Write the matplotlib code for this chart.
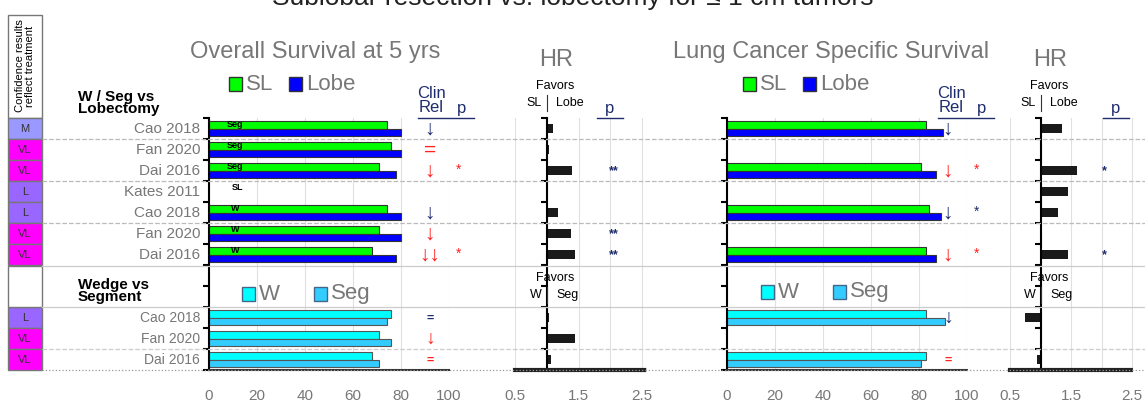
import matplotlib.pyplot as plt
from matplotlib.patches import Rectangle
from matplotlib.lines import Line2D

W, H = 1145, 407
studies = ["Cao 2018", "Fan 2020", "Dai 2016", "Kates 2011", "Cao 2018", "Fan 2020", "Dai 2016"]
studies_low = ["Cao 2018", "Fan 2020", "Dai 2016"]
conf = ["M", "VL", "VL", "L", "L", "VL", "VL"]
conf_low = ["L", "VL", "VL"]
bar_tags = ["Seg", "Seg", "Seg", "SL", "W", "W", "W"]

os_sl = [74, 76, 71, None, 74, 71, 68]
os_lobe = [80, 80, 78, None, 80, 80, 78]
os_w = [76, 71, 68]
os_seg = [74, 76, 71]
os_hr = [1.1, 1.03, 1.4, None, 1.18, 1.38, 1.45]
os_hr_low = [1.03, 1.45, 1.06]

lc_sl = [83, None, 81, None, 84, None, 83]
lc_lobe = [90, None, 87, None, 89, None, 87]
lc_w = [83, None, 83]
lc_seg = [91, None, 81]
lc_hr = [1.35, None, 1.6, 1.45, 1.28, None, 1.45]
lc_hr_low = [0.75, None, 0.95]

# (clinical relevance symbol, colour, p marker, colour)
NAVY, RED = "#1f2d6e", "#ff2020"
os_clin = [("↓", NAVY, "", RED), ("=", RED, "", RED), ("↓", RED, "*", RED), ("", NAVY, "", RED),
           ("↓", NAVY, "", RED), ("↓", RED, "", RED), ("↓↓", RED, "*", RED)]
os_clin_low = [("=", NAVY), ("↓", RED), ("=", RED)]
os_hr_p = ["", "", "**", "", "", "**", "**"]
lc_clin = [("↓", NAVY, "", RED), ("", NAVY, "", RED), ("↓", RED, "*", RED), ("", NAVY, "", RED),
           ("↓", NAVY, "*", NAVY), ("", NAVY, "", RED), ("↓", RED, "*", RED)]
lc_clin_low = [("↓", NAVY), ("", NAVY), ("=", RED)]
lc_hr_p = ["", "", "*", "", "", "", "*"]

conf_col = {"M": "#9999ff", "VL": "#ff00ff", "L": "#9966ff"}
GREEN, BLUE, CYAN, LBLUE = "#00ff00", "#0000ff", "#00ffff", "#33ccff"
GREY = "#777777"

fig = plt.figure(figsize=(W / 100, H / 100), dpi=100)
plt.rcParams['font.family'] = ['Liberation Sans', 'DejaVu Sans']


def fx(x):
    return x / W


def fy(y):
    return 1 - y / H


def add_ax(x0, x1):
    return fig.add_axes([fx(x0), fy(370), fx(x1) - fx(x0), (370 - 118) / H])


up_rows = list(range(7))
low_rows = [9, 10, 11]


def style(ax, xlim, ticks, spine_x, dotted):
    ax.set_xlim(*xlim)
    ax.set_ylim(12, 0)
    ax.set_xticks(ticks)
    ax.set_xticklabels([f"{t:g}" for t in ticks], color=GREY, fontsize=11)
    ax.tick_params(axis="x", length=0, pad=14)
    ax.set_yticks(list(range(0, 13)))
    ax.set_yticklabels([])
    ax.tick_params(axis="y", direction="out", length=4, width=1.5)
    for s in ["top", "right"]:
        ax.spines[s].set_visible(False)
    ax.spines["left"].set_position(("data", spine_x))
    ax.spines["left"].set_linewidth(1.5)
    if dotted:
        ax.spines["bottom"].set_linewidth(3)
        ax.spines["bottom"].set_linestyle((0, (1, 1)))
        ax.spines["bottom"].set_color("#222222")
    else:
        ax.spines["bottom"].set_linewidth(1.5)
        ax.spines["bottom"].set_color("#333333")
    ax.grid(axis="x", color="#e0e0e0", lw=0.8)
    ax.set_axisbelow(True)
    ax.patch.set_alpha(0)


def surv_panel(x0, a, b, lw_, ls_, clin, clin_low, tags):
    ax = add_ax(x0, x0 + 240)
    style(ax, (0, 100), [0, 20, 40, 60, 80, 100], 0, False)
    for r, va, vb in zip(up_rows, a, b):
        if va is not None:
            ax.barh(r + 0.32, va, 0.36, color=GREEN, edgecolor="#333333", lw=0.8)
            ax.barh(r + 0.68, vb, 0.36, color=BLUE, edgecolor="#333333", lw=0.8)
    for r, va, vb in zip(low_rows, lw_, ls_):
        if va is not None:
            ax.barh(r + 0.32, va, 0.36, color=CYAN, edgecolor="#555555", lw=0.8)
            ax.barh(r + 0.68, vb, 0.36, color=LBLUE, edgecolor="#555555", lw=0.8)
    for r, (sym, c, p, pc) in zip(up_rows, clin):
        ax.text(92, r + 0.55, sym, color=c, fontsize=15, ha="center", va="center")
        ax.text(104, r + 0.45, p, color=pc, fontsize=10, ha="center", va="center")
    for r, (sym, c) in zip(low_rows, clin_low):
        ax.text(92, r + 0.55, sym, color=c, fontsize=14 if sym == "↓" else 9,
                ha="center", va="center", fontweight="bold" if sym == "=" else "normal")
    if tags:
        for r, t in zip(up_rows, bar_tags):
            ax.text(12 if t == "SL" else 11, r + 0.3, t, fontsize=6.5, fontweight="bold",
                    ha="center", va="center")
    return ax


def hr_panel(x0, x1, scale, hr, hr_low, ps):
    ax = add_ax(x0, x1)
    style(ax, (0.5, 0.5 + (x1 - x0) / scale), [0.5, 1.5, 2.5], 1.0, True)
    ax.set_xticks([0.5, 1.0, 1.5, 2.0, 2.5])
    ax.set_xticklabels(["0.5", "", "1.5", "", "2.5"], color=GREY, fontsize=11)
    for r, v in zip(up_rows + low_rows, hr + hr_low):
        if v is not None:
            ax.barh(r + 0.5, v - 1, 0.4, left=1, color="#1a1a1a")
    for r, p in zip(up_rows, ps):
        ax.text(2.05, r + 0.55, p, color=NAVY, fontsize=9, fontweight="bold",
                ha="center", va="center")
    return ax


surv_panel(209, os_sl, os_lobe, os_w, os_seg, os_clin, os_clin_low, True)
hr_panel(515, 645, 63.5, os_hr, os_hr_low, os_hr_p)
surv_panel(727, lc_sl, lc_lobe, lc_w, lc_seg, lc_clin, lc_clin_low, False)
hr_panel(1010, 1135, 61, lc_hr, lc_hr_low, lc_hr_p)

# separators
for y, ls, c in [(139, "--", "#bbbbbb"), (181, "--", "#bbbbbb"), (223, "--", "#bbbbbb"),
                 (266, "-", "#cccccc"), (307, "-", "#cccccc"), (349, "--", "#cccccc"),
                 (370, ":", "#999999")]:
    fig.add_artist(Line2D([fx(42), 1], [fy(y), fy(y)], ls=ls, color=c, lw=0.9))

# confidence column
fig.add_artist(Rectangle((fx(8), fy(118)), fx(34), 103 / H, fc="white", ec=GREY, lw=1))
fig.text(fx(25), fy(66), "Confidence results\nreflect treatment", rotation=90,
         ha="center", va="center", fontsize=8, linespacing=0.95)
for i, c in enumerate(conf + [None, None] + conf_low):
    if c is None:
        continue
    y = 118 + i * 21
    fig.add_artist(Rectangle((fx(8), fy(y + 21)), fx(34), 21 / H, fc=conf_col[c], ec=GREY, lw=1))
    fig.text(fx(25), fy(y + 11), c, ha="center", va="center", fontsize=8, color="#333333")
fig.add_artist(Rectangle((fx(8), fy(307)), fx(34), 41 / H, fc="white", ec=GREY, lw=1))

for i, s in enumerate(studies):
    fig.text(fx(200), fy(129 + i * 21), s, ha="right", va="center", fontsize=11, color=GREY)
for i, s in enumerate(studies_low):
    fig.text(fx(200), fy(318 + i * 21), s, ha="right", va="center", fontsize=10, color=GREY)

fig.text(fx(78), fy(103), "W / Seg vs\nLobectomy", fontsize=11, fontweight="bold",
         va="center", linespacing=0.9)
fig.text(fx(78), fy(291), "Wedge vs\nSegment", fontsize=11, fontweight="bold",
         va="center", linespacing=0.9)

# titles
fig.text(0.5, fy(-2), "Sublobar resection vs. lobectomy for ≤ 1 cm tumors", ha="center",
         va="center", fontsize=19, color="#222222")
fig.text(fx(315), fy(52), "Overall Survival at 5 yrs", ha="center", va="center",
         fontsize=17, color=GREY)
fig.text(fx(831), fy(52), "Lung Cancer Specific Survival", ha="center", va="center",
         fontsize=17, color=GREY)
for x in (556, 1050):
    fig.text(fx(x), fy(60), "HR", ha="center", va="center", fontsize=17, color=GREY)


def legend(x, y, items, edge):
    for dx, col, lab in items:
        fig.add_artist(Rectangle((fx(x + dx), fy(y + 7)), fx(13), 14 / H, fc=col, ec=edge, lw=1))
        fig.text(fx(x + dx + 17), fy(y), lab, va="center", fontsize=16, color=GREY)


legend(229, 84, [(0, GREEN, "SL"), (60, BLUE, "Lobe")], "#333333")
legend(743, 84, [(0, GREEN, "SL"), (60, BLUE, "Lobe")], "#333333")
legend(242, 294, [(0, CYAN, "W"), (72, LBLUE, "Seg")], "#446688")
legend(761, 292, [(0, CYAN, "W"), (72, LBLUE, "Seg")], "#446688")

for x0 in (418, 938):
    fig.text(fx(x0 + 13), fy(93), "Clin", ha="center", va="center", fontsize=12, color=NAVY)
    fig.text(fx(x0 + 13), fy(108), "Rel", ha="center", va="center", fontsize=12, color=NAVY)
    fig.text(fx(x0 + 44), fy(108), "p", ha="center", va="center", fontsize=12, color=NAVY)
    fig.add_artist(Line2D([fx(x0), fx(x0 + 56)], [fy(118), fy(118)], color=NAVY, lw=1))
for x0 in (597, 1103):
    fig.text(fx(x0 + 13), fy(108), "p", ha="center", va="center", fontsize=12, color=NAVY)
    fig.add_artist(Line2D([fx(x0), fx(x0 + 26)], [fy(118), fy(118)], color=NAVY, lw=1))

for xc, a, b, ytop in [(547, "SL", "Lobe", 86), (1041, "SL", "Lobe", 86),
                       (547, "W", "Seg", 278), (1041, "W", "Seg", 278)]:
    fig.text(fx(xc + 8), fy(ytop), "Favors", ha="center", va="center", fontsize=9)
    fig.text(fx(xc - 5), fy(ytop + 17), a, ha="right", va="center", fontsize=9)
    fig.text(fx(xc + 9), fy(ytop + 17), b, ha="left", va="center", fontsize=9)
    fig.add_artist(Line2D([fx(xc), fx(xc)], [fy(ytop + 9), fy(ytop + 25)], color="#333333", lw=0.8))

fig.savefig("out.png", dpi=100)
